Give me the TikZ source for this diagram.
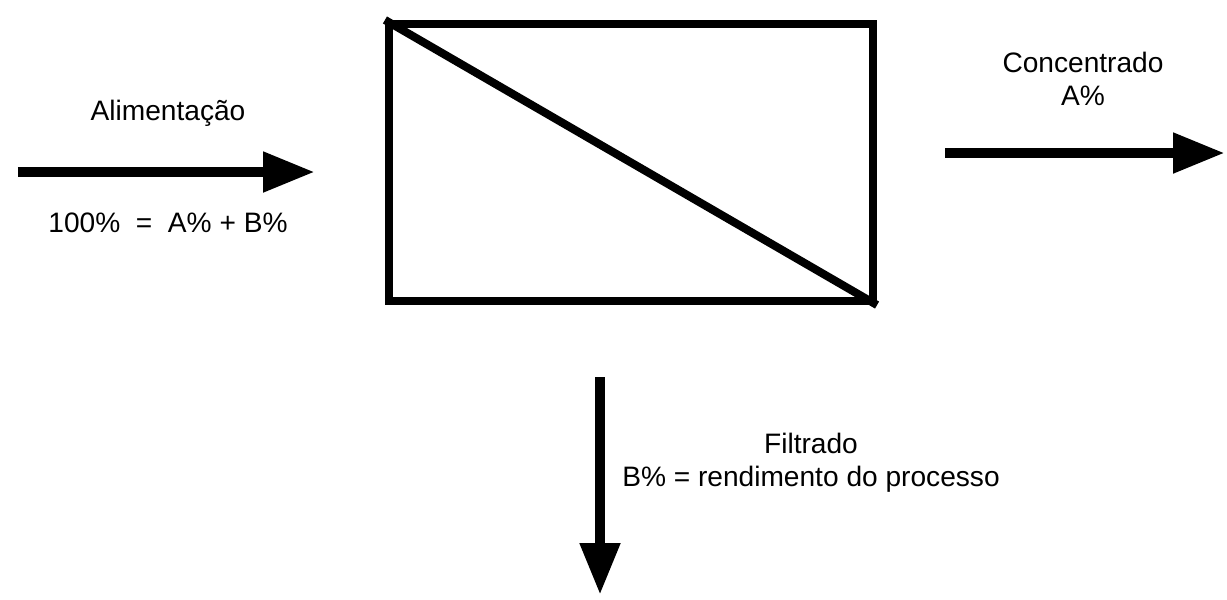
\documentclass[tikz,border=0pt]{standalone}
\usepackage{fontspec}
\setmainfont{Liberation Sans}
\usetikzlibrary{arrows.meta}

\begin{document}
\begin{tikzpicture}[
  fluxo/.style={line width=3.1pt, -{Triangle[length=5.2mm,width=3.8mm]}},
  rotulo/.style={font=\fontsize{8}{9.5}\selectfont, align=center, inner sep=0pt}
]
\useasboundingbox (0,0) rectangle (12.27,5.99);
\node[draw, line width=2.3pt, minimum width=4.84cm, minimum height=2.77cm, inner sep=0pt] (membrana) at (6.31,4.365) {};
\draw[line width=2.3pt] (membrana.north west) -- (membrana.south east);

\coordinate (alim0) at (0.18,4.27);
\coordinate (alim1) at (3.15,4.27);
\draw[fluxo] (alim0) -- (alim1);
\node[rotulo] (alim) at (1.68,4.86) {Alimentação};
\node[rotulo] (total) at (1.68,3.76) {100\%\ \ =\ \ A\% + B\%};

\coordinate (conc0) at (9.45,4.46);
\coordinate (conc1) at (12.25,4.46);
\draw[fluxo] (conc0) -- (conc1);
\node[rotulo] (conc) at (10.83,5.2) {Concentrado\\A\%};

\coordinate (filt0) at (6.00,2.22);
\coordinate (filt1) at (6.00,0.04);
\draw[fluxo] (filt0) -- (filt1);
\node[rotulo] (filt) at (8.11,1.365) {Filtrado\\B\% = rendimento do processo};
\end{tikzpicture}
\end{document}
